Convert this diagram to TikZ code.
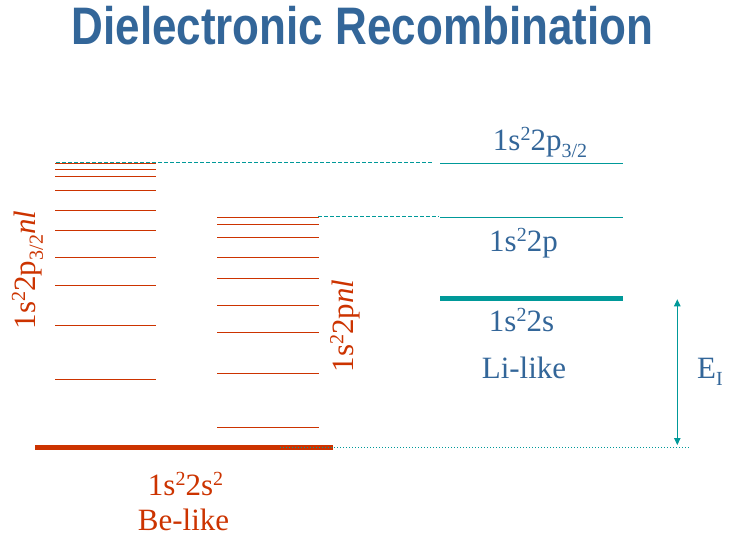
\documentclass[tikz,border=0pt]{standalone}
\usepackage{fontspec}
\setmainfont{Liberation Serif}
\newfontfamily\textschrift{Liberation Serif}
\newfontfamily\titelschrift{Liberation Sans}
\usetikzlibrary{arrows.meta,positioning}
\definecolor{rotNiveau}{RGB}{204,51,0}
\definecolor{tuerkis}{RGB}{0,153,153}
\definecolor{blauText}{RGB}{51,102,153}
\newcommand{\hoch}[1]{\raisebox{0.32em}{\fontsize{20}{20}\selectfont #1}}
\newcommand{\tief}[1]{\raisebox{-0.25em}{\fontsize{20}{20}\selectfont #1}}

\begin{document}
\begin{tikzpicture}[x=1pt,y=-1pt,
  niveau/.style={rotNiveau,line width=1pt},
  linie/.style={tuerkis,line width=1pt},
  gestrichelt/.style={tuerkis,line width=1pt,dash pattern=on 4pt off 2pt},
  beschr/.style={inner sep=0pt,font=\textschrift\fontsize{31}{31}\selectfont},
  pfeil/.style={tuerkis,line width=1pt,{Triangle[length=7pt,width=6.5pt]}-{Triangle[length=7pt,width=6.5pt]}}]
\useasboundingbox (0,0) rectangle (733,543);
%Ueberschrift
\node[inner sep=0pt,anchor=base,blauText,yscale=1.2,font=\titelschrift\bfseries\fontsize{44}{44}\selectfont] (titel) at (362.5,44.3) {Dielectronic Recombination};
%Zustaende 1s2 2p3/2 nl und 1s2 2p nl
\foreach \y in {163.3,169.3,176.3,190.3,210.3,230.3,257.3,285.3,325.3,379.3}{
\draw[niveau] (55,\y) -- (156,\y);
}
\foreach \y in {217.3,224.3,237.3,257.3,278.3,305.3,332.3,373.3,427.3}{
\draw[niveau] (217,\y) -- (319,\y);
}
\draw[rotNiveau,line width=5pt] (35,447.3) -- (332.7,447.3);
%Li-artig
\draw[linie] (440,163.3) -- (623,163.3);
\draw[linie] (440,217.3) -- (623,217.3);
\draw[tuerkis,line width=4.7pt] (440,298.3) -- (623,298.3);
\draw[gestrichelt] (56,162.3) -- (433,162.3);
\draw[gestrichelt] (318,216.3) -- (439,216.3);
\draw[tuerkis,line width=1pt,dash pattern=on 1pt off 2pt] (280,447.3) -- (690,447.3);
%Ionisationsenergie
\coordinate (EIoben) at (677.3,299.3);
\coordinate (EIunten) at (677.3,445);
\draw[pfeil] (EIoben) -- (EIunten);
\node[beschr,blauText,anchor=base west] (EI) at (697,378) {E\tief{I}};
%Beschriftungen
\node[beschr,blauText,anchor=base] (p32) at (540,150) {1s\hoch{2}2p\tief{3/2}};
\node[beschr,blauText,anchor=base] (p12) at (523.5,251.7) {1s\hoch{2}2p};
\node[beschr,blauText,anchor=base] (s12) at (521.5,331.7) {1s\hoch{2}2s};
\node[beschr,blauText,anchor=base] (Li) at (524,378) {Li-like};
\node[beschr,rotNiveau,anchor=base] (grund) at (185.5,495) {1s\hoch{2}2s\hoch{2}};
\node[beschr,rotNiveau,anchor=base] (Be) at (183.5,530.7) {Be-like};
\node[beschr,rotNiveau,anchor=base,rotate=90] (links) at (35,270) {1s\hoch{2}2p\tief{3/2}\textit{nl}};
\node[beschr,rotNiveau,anchor=base,rotate=90] (mitte) at (353.3,326) {1s\hoch{2}2p\textit{nl}};
\end{tikzpicture}
\end{document}
